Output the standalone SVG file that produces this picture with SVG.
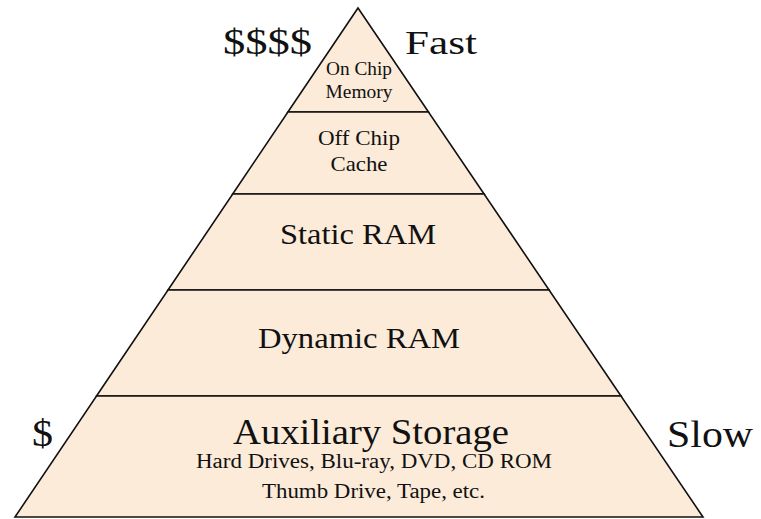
<svg xmlns="http://www.w3.org/2000/svg" width="761" height="519" viewBox="0 0 761 519">
<style>
.band{fill:#FCEBD9;stroke:#111;stroke-width:1.6;stroke-linejoin:miter}
.t{font-family:'Liberation Serif','Times New Roman',Times,serif;fill:#111;text-anchor:middle}
</style>
<rect width="761" height="519" fill="#fff"/>
<g id="on-chip">
<polygon class="band" points="358,8 428.5,112 287.9,112"/>
<text class="t" x="359" y="75" font-size="19" textLength="66" lengthAdjust="spacingAndGlyphs">On Chip</text>
<text class="t" x="359" y="98" font-size="19" textLength="67" lengthAdjust="spacingAndGlyphs">Memory</text>
</g>
<g id="off-chip">
<polygon class="band" points="287.9,112 428.5,112 484.1,194 232.7,194"/>
<text class="t" x="359" y="145" font-size="22" textLength="82" lengthAdjust="spacingAndGlyphs">Off Chip</text>
<text class="t" x="359" y="171" font-size="22" textLength="57" lengthAdjust="spacingAndGlyphs">Cache</text>
</g>
<g id="static-ram">
<polygon class="band" points="232.7,194 484.1,194 549.1,290 168,290"/>
<text class="t" x="358" y="244" font-size="30" textLength="156" lengthAdjust="spacingAndGlyphs">Static RAM</text>
</g>
<g id="dynamic-ram">
<polygon class="band" points="168,290 549.1,290 621,396 96.5,396"/>
<text class="t" x="359" y="348" font-size="30" textLength="202" lengthAdjust="spacingAndGlyphs">Dynamic RAM</text>
</g>
<g id="auxiliary">
<polygon class="band" points="96.5,396 621,396 703,517 15,517"/>
<text class="t" x="371" y="444" font-size="36" textLength="276" lengthAdjust="spacingAndGlyphs">Auxiliary Storage</text>
<text class="t" x="374" y="468" font-size="20" textLength="356" lengthAdjust="spacingAndGlyphs">Hard Drives, Blu-ray, DVD, CD ROM</text>
<text class="t" x="373.5" y="498" font-size="20" textLength="223" lengthAdjust="spacingAndGlyphs">Thumb Drive, Tape, etc.</text>
</g>
<g id="labels">
<text class="t" x="267.5" y="54" font-size="36" textLength="89" lengthAdjust="spacingAndGlyphs">$$$$</text>
<text class="t" x="441" y="54" font-size="34" textLength="72" lengthAdjust="spacingAndGlyphs">Fast</text>
<text class="t" x="42.5" y="446" font-size="38" textLength="21" lengthAdjust="spacingAndGlyphs">$</text>
<text class="t" x="710" y="447" font-size="38" textLength="86" lengthAdjust="spacingAndGlyphs">Slow</text>
</g>
</svg>
